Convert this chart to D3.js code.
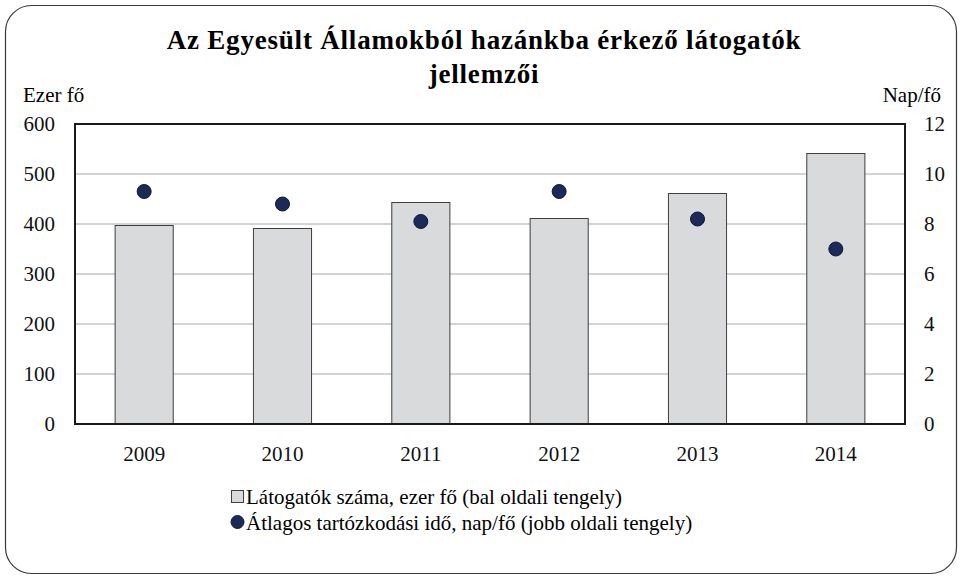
<!DOCTYPE html>
<html>
<head>
<meta charset="utf-8">
<script src="https://cdn.jsdelivr.net/npm/d3@7"></script>
<style>
  body { margin: 0; background: #fff; }
  svg { display: block; }
</style>
</head>
<body>
<svg id="chart" width="962" height="579"></svg>
<script>
// data
const years = ['2009', '2010', '2011', '2012', '2013', '2014'];
const visitors = [397, 391, 443, 411, 461, 541];        // ezer fő (left axis)
const avgStay = [9.3, 8.8, 8.1, 9.3, 8.2, 7.0];          // nap/fő (right axis)
const leftTicks = [0, 100, 200, 300, 400, 500, 600];
const rightTicks = [0, 2, 4, 6, 8, 10, 12];

const svg = d3.select('#chart');
const margin = { top: 124, right: 57, bottom: 155, left: 75 };
const width = 962 - margin.left - margin.right;
const height = 579 - margin.top - margin.bottom;
const fontFam = '"Liberation Serif", monospace';

// outer rounded frame
svg.append('rect')
  .attr('x', 5.5).attr('y', 5.5)
  .attr('width', 951).attr('height', 568)
  .attr('rx', 26).attr('ry', 26)
  .attr('fill', 'none').attr('stroke', '#3a3a3a').attr('stroke-width', 1.2);

// title
const title = ['Az Egyesült Államokból hazánkba érkező látogatók', 'jellemzői'];
title.forEach((t, i) => {
  svg.append('text')
    .attr('x', 484).attr('y', 49 + i * 34)
    .attr('text-anchor', 'middle')
    .style('font-family', fontFam)
    .style('font-size', '27px').style('font-weight', 'bold')
    .style('letter-spacing', '0.8px')
    .text(t);
});

svg.append('text').attr('x', 23).attr('y', 102)
  .style('font-family', fontFam).style('font-size', '21px').text('Ezer fő');
svg.append('text').attr('x', 941).attr('y', 102).attr('text-anchor', 'end')
  .style('font-family', fontFam).style('font-size', '21px').text('Nap/fő');

const g = svg.append('g').attr('transform', `translate(${margin.left},${margin.top})`);

const x = d3.scaleBand().domain(years).range([0, width]).paddingInner(0.58).paddingOuter(0.29);
const yL = d3.scaleLinear().domain([0, 600]).range([height, 0]);
const yR = d3.scaleLinear().domain([0, 12]).range([height, 0]);

// gridlines
g.append('g')
  .selectAll('line')
  .data(leftTicks.filter(d => d > 0 && d < 600))
  .enter().append('line')
  .attr('x1', 0).attr('x2', width)
  .attr('y1', d => yL(d)).attr('y2', d => yL(d))
  .attr('stroke', '#c4c5c7').attr('stroke-width', 1.5);

// bars
g.selectAll('rect.bar')
  .data(visitors)
  .enter().append('rect')
  .attr('class', 'bar')
  .attr('x', (d, i) => x(years[i]))
  .attr('y', d => yL(d))
  .attr('width', x.bandwidth())
  .attr('height', d => height - yL(d))
  .attr('fill', '#d9dadb')
  .attr('stroke', '#3f3f3f').attr('stroke-width', 1);

// dots
g.selectAll('circle.dot')
  .data(avgStay)
  .enter().append('circle')
  .attr('class', 'dot')
  .attr('cx', (d, i) => x(years[i]) + x.bandwidth() / 2)
  .attr('cy', d => yR(d))
  .attr('r', 7)
  .attr('fill', '#1c2a5a')
  .attr('stroke', '#0f1838').attr('stroke-width', 1);

// plot frame
g.append('rect')
  .attr('x', 0).attr('y', 0).attr('width', width).attr('height', height)
  .attr('fill', 'none').attr('stroke', '#1a1a1a').attr('stroke-width', 2);

// axes
const axL = g.append('g')
  .call(d3.axisLeft(yL).tickValues(leftTicks).tickSize(0).tickPadding(20));
const axR = g.append('g').attr('transform', `translate(${width},0)`)
  .call(d3.axisRight(yR).tickValues(rightTicks).tickSize(0).tickPadding(19));
const axB = g.append('g').attr('transform', `translate(0,${height})`)
  .call(d3.axisBottom(x).tickSize(0).tickPadding(22));

[axL, axR, axB].forEach(a => {
  a.attr('font-family', null).attr('font-size', null);
  a.select('.domain').remove();
  a.selectAll('text')
    .style('font-family', fontFam)
    .style('font-size', '21px').style('fill', '#111');
});

// legend
const lg = svg.append('g');
lg.append('rect')
  .attr('x', 231.5).attr('y', 490.5).attr('width', 12).attr('height', 12)
  .attr('fill', '#d9dadb').attr('stroke', '#3f3f3f').attr('stroke-width', 1);
lg.append('text').attr('x', 246).attr('y', 504)
  .style('font-family', fontFam).style('font-size', '21px')
  .text('Látogatók száma, ezer fő (bal oldali tengely)');
lg.append('circle')
  .attr('cx', 237.5).attr('cy', 522).attr('r', 6.5)
  .attr('fill', '#1c2a5a').attr('stroke', '#0f1838');
lg.append('text').attr('x', 246).attr('y', 530)
  .style('font-family', fontFam).style('font-size', '21px')
  .text('Átlagos tartózkodási idő, nap/fő (jobb oldali tengely)');
</script>
</body>
</html>
